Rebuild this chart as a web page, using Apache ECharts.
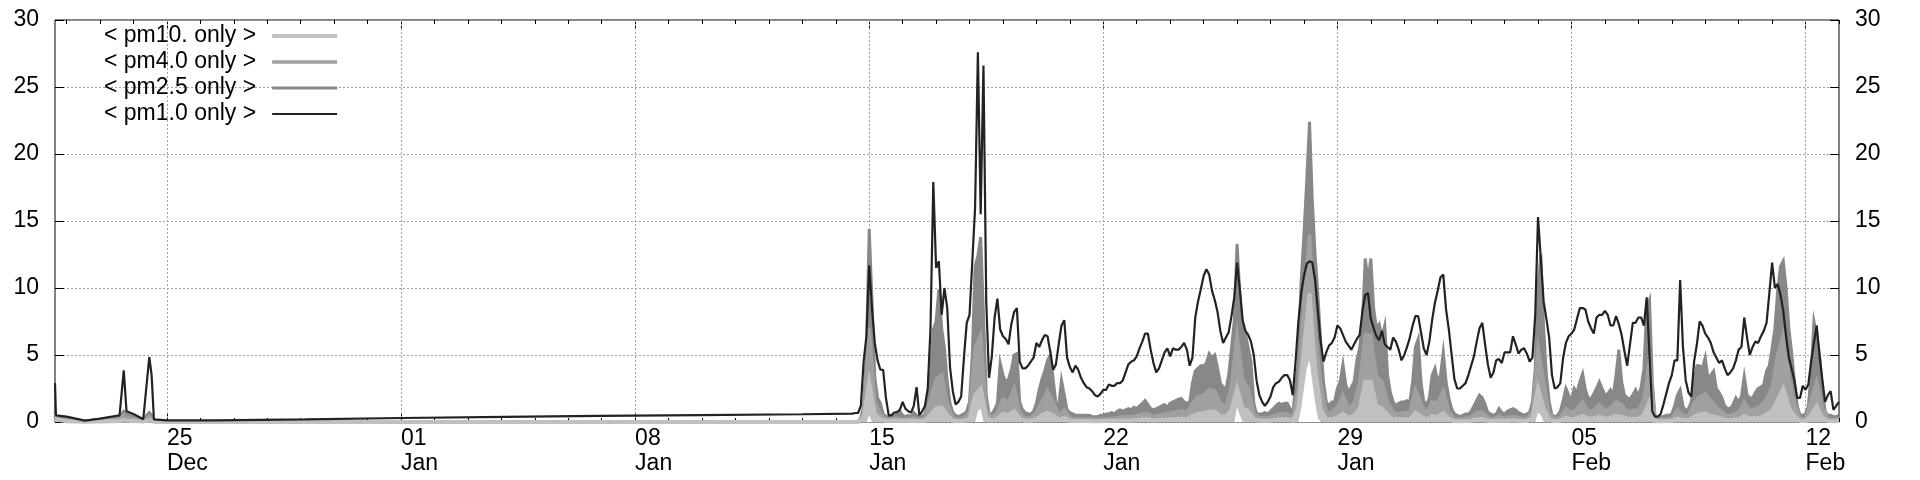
<!DOCTYPE html>
<html><head><meta charset="utf-8">
<script src="https://cdn.jsdelivr.net/npm/echarts@6/dist/echarts.min.js"></script>
<style>html,body{margin:0;padding:0;background:#fff}#c{width:1920px;height:480px}</style>
</head><body><div id="c"></div>
<script>
const seriesNames = ['< pm10. only >', '< pm4.0 only >', '< pm2.5 only >', '< pm1.0 only >'];
const weekTicks = ['2019-12-25T00:00','2020-01-01T00:00','2020-01-08T00:00','2020-01-15T00:00','2020-01-22T00:00','2020-01-29T00:00','2020-02-05T00:00','2020-02-12T00:00'];
const monthNames = ['Jan','Feb','Mar','Apr','May','Jun','Jul','Aug','Sep','Oct','Nov','Dec'];
const xStart = '2019-12-21T15:40';
const xEnd = '2020-02-13T00:00';
const yMin = 0, yMax = 30, yStep = 5;

// Dec 21 - Dec 25 readings
const earlyTimes = ['2019-12-21T15:40','2019-12-21T16:20','2019-12-22T00:00','2019-12-22T13:00','2019-12-23T00:00','2019-12-23T14:00','2019-12-23T17:00','2019-12-23T19:00','2019-12-24T00:00','2019-12-24T07:00','2019-12-24T11:20','2019-12-24T13:00','2019-12-24T14:40','2019-12-25T00:00'];
const earlyPm1  = [2.9,0.5,0.4,0.1,0.25,0.5,3.85,0.8,0.6,0.2,4.85,3.5,0.2,0.12];
const earlyPm25 = [0.8,0.3,0.25,0.05,0.2,0.4,0.8,0.6,0.4,0.2,0.7,0.5,0.1,0];
const earlyPm40 = [0.5,0.2,0.15,0.03,0.12,0.25,0.5,0.35,0.25,0.1,0.4,0.3,0.05,0];
const earlyPm10 = [0.2,0.08,0.06,0.01,0.04,0.08,0.15,0.12,0.08,0.03,0.12,0.1,0.02,0];

// pm1.0 level during the sparse period (each level holds until the next time)
const stepTimes = ['2019-12-25T00:00','2019-12-26T10:00','2019-12-29T03:00','2020-01-01T01:00','2020-01-04T02:00','2020-01-06T22:00','2020-01-09T23:00','2020-01-13T00:00'];
const stepPm1   = [0.12,0.2,0.3,0.38,0.45,0.52,0.58,0.63];

// dense period, from Jan 14 12:00
const activeStart = '2020-01-14T12:00';
const fineStepHours = 2;
const coarseStepHours = 4;

const pm1Active = [
0.67,0.67,0.67,1.2,4.5,6.4,11.7,8.5,5.9,4.6,
3.9,3.9,1.8,0.5,0.5,0.7,0.75,0.9,1.5,1.0,
0.8,0.7,1.2,2.6,0.5,0.8,1.2,2.5,7.0,17.9,
11.5,12.0,8.0,10.0,8.5,4.1,2.3,1.3,1.5,1.9,
4.8,7.4,8.0,12.0,16,27.6,15.5,26.6,9,3.3,
4.9,7.8,9.2,6.9,6.4,6.2,5.8,7.3,8.2,8.5,
4.5,4.0,4.0,4.2,4.5,4.8,5.9,5.6,6.1,6.5,
6.4,5.2,3.9,4.3,5.8,7.2,7.6,4.8,4.1,3.7,
4.2,3.9,3.3,2.9,2.6,2.5,2.3,2.0,1.9,2.1,
2.4,2.4,2.8,2.7,2.7,2.9,2.9,3.1,3.7,4.3,
4.5,4.6,4.9,5.5,6.0,6.6,6.6,5.4,4.4,3.7,
4.0,4.6,5.2,5.5,4.9,5.5,5.4,5.4,5.6,5.9,
5.4,4.2,4.8,7.8,9.0,9.9,10.9,11.4,11.0,9.8,
9.1,8.2,6.8,5.9,6.3,6.7,7.9,9.3,11.9,9.9,
7.6,6.8,6.5,6.0,5.0,3.1,2.0,1.5,1.2,1.5,
1.9,2.6,2.9,3.0,3.3,3.5,3.5,3.1,2.0,4.5,
7.5,9.6,10.9,11.8,12.0,11.9,10.6,8.3,6.0,4.5,
5.2,5.7,5.9,6.3,7.2,7.0,6.5,6.0,5.7,5.4,
5.8,6.2,6.5,8.3,9.5,9.6,7.7,7.0,6.4,6.1,
6.8,5.8,5.6,5.4,6.3,6.0,5.4,4.6,5.0,5.6,
6.3,7.2,7.9,7.9,6.7,5.5,5.0,6.0,7.6,8.9,
9.8,10.8,11.0,8.4,6.9,5.0,3.2,2.5,2.5,2.7,
2.9,3.5,4.2,4.9,6.0,7.0,7.4,5.8,4.3,3.3,
3.7,4.6,4.7,4.4,5.2,5.2,5.2,6.4,5.8,5.1,
5.4,5.5,5.1,4.5,4.8,8.0,15.3,12.2,9.0,7.7,
6.3,3.5,2.5,2.6,2.9,4.8,5.9,6.4,6.6,6.9,
7.7,8.5,8.5,8.4,7.5,7.0,6.6,7.8,8.0,8.0,
8.3,8.0,7.2,7.2,7.9,7.3,6.5,5.3,4.2,5.8,
7.4,7.4,7.8,7.8,7.2,9.3,5.0,0.8,0.4,0.4,
0.6,1.3,2.1,2.9,3.5,4.6,4.6,10.6,5.6,3.1,
2.2,1.9,4.5,5.8,7.5,7.2,6.6,6.3,5.9,5.2,
4.8,4.4,4.6,4.0,3.5,3.7,4.0,4.6,5.4,5.6,
7.8,6.3,5.0,5.6,6.0,5.9,6.4,6.8,7.4,9.6,
11.9,10.0,10.3,9.5,8.3,6.4,4.8,4.0,3.1,1.8,
1.8,2.7,2.4,2.8,4.5,5.9,7.2,5.0,3.2,1.5,
2.0,2.3,0.9,1.2,1.5];

const pm25Active = [
0,0,0,0.3,1.2,5.0,14.4,9.0,3.3,1.8,
1.4,0.6,0.4,0.4,0.5,0.4,0.6,0.8,0.5,0.4,
0.5,0.4,0.7,0.5,0.3,0.4,0.6,1.5,3.5,6.9,
7.5,9.9,7.0,5.5,3.0,1.4,0.7,0.5,0.4,0.5,
0.6,0.8,1.5,5.0,11.6,12.4,13.8,8.0,2.0,0.6,
0.6,0.9,1.4,4.4,3.5,3.0,3.2,3.9,5.0,5.1,
1.5,0.9,0.7,0.6,0.6,0.8,1.4,2.4,3.2,3.8,
4.6,5.0,3.2,1.4,1.2,3.1,2.0,0.9,0.7,0.6,
0.5,0.5,0.5,0.5,0.5,0.5,0.4,0.4,0.4,0.5,
0.5,0.6,0.6,0.7,0.6,0.8,0.9,0.8,0.9,1.0,
0.9,1.1,1.0,1.2,1.4,1.6,1.3,1.0,0.9,1.0,
1.1,1.2,1.3,1.1,1.4,1.5,1.6,1.7,1.75,1.5,
1.4,1.5,2.9,3.8,4.0,4.2,4.2,4.4,5.1,4.8,
5.0,4.0,2.9,2.6,2.4,3.5,5.5,7.5,13.3,9.5,
6.9,6.6,5.5,4.5,1.4,0.6,0.6,0.6,0.7,0.6,
0.8,1.0,1.2,1.4,1.3,1.4,1.4,1.0,0.7,2.5,
4.5,10.5,14,18,22.4,16.5,12.5,9.5,6.0,3.0,
1.5,1.2,1.5,1.5,2.5,3.0,4.3,2.8,2.2,2.6,
3.0,4.6,5.5,7.5,12.2,10.5,12.2,8.5,7.0,7.3,
6.3,7.2,3.5,2.2,1.5,1.2,1.4,1.5,1.5,1.6,
1.5,3.0,5.6,6.2,3.0,1.5,1.3,1.8,3.5,4.0,
3.0,3.5,5.2,3.0,1.8,1.0,0.6,0.5,0.4,0.5,
0.6,0.6,0.8,1.2,1.6,2.0,1.8,1.3,0.7,0.6,
0.5,0.6,1.0,0.7,0.6,0.8,0.9,1.0,0.9,0.7,
0.6,0.5,0.6,0.7,1.5,4.0,10.0,12.5,7.0,3.5,
1.5,0.5,0.4,0.5,0.8,1.6,2.5,2.0,1.6,2.5,
2.2,3.0,3.6,2.4,1.8,1.7,2.1,2.5,3.0,2.5,
2.0,2.1,2.4,2.0,3.5,5.4,3.0,2.0,1.8,1.7,
2.0,2.4,1.9,2.6,4.0,8.5,9.1,3.0,0.3,0.3,
0.4,0.4,0.5,0.5,0.6,1.2,2.0,2.4,1.2,0.8,
1.0,1.5,3.0,4.2,4.2,4.0,4.8,3.2,3.5,3.8,
2.5,2.2,1.8,1.2,1.0,1.0,1.3,1.8,1.5,1.9,
3.4,2.0,1.8,1.8,2.2,2.5,2.6,2.8,3.8,4.2,
5.5,7.0,9.8,11.6,12.0,10.0,7.0,5.2,3.0,1.2,
0.5,0.5,0.6,1.2,3.5,7.5,6.5,5.0,2.5,0.8,
0.5,0.5,0.4,0.4,0.5];

const pm40Active = [
0,0,0.6,7.0,1.5,0.6,0.2,0.2,0.3,0.2,
0.2,0.3,0.15,0.3,1.7,3.2,3.5,1.4,0.3,0.2,
0.3,0.7,5.5,6.5,0.9,0.3,0.7,1.7,1.5,2.5,
0.7,0.3,0.3,0.7,1.5,2.3,1.5,0.5,0.9,0.3,
0.22,0.22,0.22,0.2,0.2,0.22,0.26,0.26,0.38,0.38,
0.42,0.45,0.6,0.6,0.38,0.5,0.6,0.65,0.75,0.85,
0.65,1.4,1.9,2.0,2.4,2.3,1.4,1.1,2.7,6.5,
3.2,2.5,0.6,0.3,0.3,0.38,0.52,0.6,0.6,0.3,
2.5,9.0,14,7.0,2.9,0.7,0.7,1.1,2.0,1.0,
1.4,2.9,6.5,6.5,3.4,3.0,1.5,0.7,0.6,0.7,
0.7,2.4,1.4,0.6,1.5,1.4,2.3,0.75,0.26,0.2,
0.26,0.38,0.7,0.75,0.3,0.22,0.45,0.26,0.38,0.38,
0.26,0.26,0.75,5.5,3.0,0.6,0.2,0.35,1.0,0.7,
1.0,1.5,0.75,0.9,1.3,0.85,1.05,1.5,1.3,0.75,
0.85,0.85,1.7,4.5,0.15,0.2,0.22,0.26,0.9,0.5,
0.45,1.4,1.9,2.1,1.6,1.1,0.75,0.45,0.55,0.7,
1.5,0.85,1.0,1.2,1.7,2.6,5.0,6.5,3.4,1.4,
0.22,0.26,1.6,3.0,1.1,0.22,0.2,0.22];

const pm10Active = [
0,0,0.3,3.0,0.6,0.2,0.1,0.1,0.1,0.1,
0.1,0.1,0.05,0.1,0.5,1.0,1.1,0.5,0.1,0.05,
0.1,0.2,2.0,2.5,0.3,0.1,0.25,0.6,0.5,0.8,
0.25,0.1,0.1,0.2,0.5,0.7,0.5,0.2,0.3,0.1,
0.08,0.08,0.08,0.05,0.05,0.08,0.1,0.1,0.12,0.12,
0.12,0.15,0.2,0.2,0.12,0.15,0.18,0.2,0.22,0.25,
0.2,0.45,0.6,0.65,0.8,0.75,0.45,0.4,0.9,2.5,
1.0,0.8,0.2,0.1,0.1,0.12,0.18,0.2,0.2,0.1,
1.0,5.5,9.6,4.0,1.0,0.2,0.2,0.35,0.6,0.3,
0.45,1.0,3.0,3.0,1.2,1.0,0.5,0.2,0.2,0.2,
0.2,0.7,0.4,0.18,0.45,0.4,0.65,0.25,0.08,0.05,
0.08,0.1,0.2,0.22,0.1,0.08,0.12,0.08,0.12,0.12,
0.08,0.08,0.25,2.5,1.0,0.2,0.05,0.1,0.3,0.2,
0.3,0.45,0.25,0.28,0.4,0.25,0.3,0.45,0.4,0.25,
0.25,0.25,0.5,1.5,0.05,0.05,0.08,0.08,0.25,0.15,
0.12,0.4,0.55,0.65,0.45,0.35,0.25,0.12,0.18,0.2,
0.45,0.25,0.3,0.35,0.55,0.85,1.6,2.5,1.1,0.45,
0.08,0.08,0.5,1.2,0.35,0.08,0.05,0.08];

// unfilled core at the bottom of the largest peaks
const coreTimes = ['2020-01-14T22:00','2020-01-15T00:00','2020-01-15T02:00',
 '2020-01-18T04:00','2020-01-18T06:00','2020-01-18T08:00','2020-01-18T10:00',
 '2020-01-25T22:00','2020-01-26T00:00','2020-01-26T02:00','2020-01-26T04:00',
 '2020-01-27T20:00','2020-01-27T22:00','2020-01-28T00:00','2020-01-28T02:00','2020-01-28T04:00','2020-01-28T06:00','2020-01-28T08:00','2020-01-28T10:00','2020-01-28T12:00',
 '2020-02-03T22:00','2020-02-04T00:00','2020-02-04T02:00','2020-02-04T04:00'];
const coreValues = [0,0.5,0,
 0,0.8,1.0,0,
 0,1.1,0.5,0,
 0,1.0,2.5,4.0,4.6,3.0,1.5,0.3,0,
 0,0.7,0.5,0];

// ---------- build ----------
const T = s => new Date(s).getTime();
const HOUR = 3600000;
const t0 = T(activeStart);
const onGrid = (arr, h) => arr.map((v, i) => [t0 + i * h * HOUR, v]);
const early = arr => earlyTimes.map((t, i) => [T(t), arr[i]]);
const stepPairs = [];
stepTimes.forEach((t, k) => {
  const next = k + 1 < stepTimes.length ? stepTimes[k + 1] : activeStart;
  stepPairs.push([T(t), stepPm1[k]], [T(next), stepPm1[k]]);
});
const dPm1 = early(earlyPm1).concat(stepPairs, onGrid(pm1Active, fineStepHours));
const dPm25 = early(earlyPm25).concat(onGrid(pm25Active, fineStepHours));
const dPm40 = early(earlyPm40).concat(onGrid(pm40Active, coarseStepHours));
const dPm10 = early(earlyPm10).concat(onGrid(pm10Active, coarseStepHours));
const dCore = coreTimes.map((t, i) => [T(t), coreValues[i]]);

const xMin = T(xStart), xMax = T(xEnd);
const weekTs = weekTicks.map(T);
const dayTs = [];
for (let d = new Date(2019, 11, 22); d.getTime() <= xMax; d.setDate(d.getDate() + 1)) dayTs.push(d.getTime());

const FONT = 'Liberation Sans, Arial, sans-serif';
const FS = 23;
const fmt = v => { const d = new Date(v); return String(d.getDate()).padStart(2, '0') + '\n' + monthNames[d.getMonth()]; };

function area(name, data, color, width, z) {
  return { name, type: 'line', data, symbol: 'none', showSymbol: false, z, silent: true,
    lineStyle: { color, width, join: 'miter' }, itemStyle: { color },
    areaStyle: { color, opacity: 1 }, emphasis: { disabled: true }, animation: false };
}
function tickAxis(pos, values, len, labels) {
  return { type: 'value', min: xMin, max: xMax, position: pos, scale: true,
    axisLine: { show: false }, splitLine: { show: false }, minorTick: { show: false },
    axisTick: { show: true, inside: true, length: len, customValues: values, lineStyle: { color: '#000', width: 1 } },
    axisLabel: labels ? { show: true, customValues: weekTs, formatter: fmt, align: 'left', fontSize: FS, lineHeight: 25,
      margin: 4, color: '#000', fontFamily: FONT, hideOverlap: false } : { show: false } };
}
function yAx(pos, grid) {
  return { type: 'value', min: yMin, max: yMax, interval: yStep, position: pos,
    axisLine: { show: false },
    axisTick: { show: true, inside: true, length: 9, lineStyle: { color: '#000', width: 1 } },
    axisLabel: { fontSize: FS, color: '#000', margin: 16, fontFamily: FONT, padding: [0, 0, 7, 0] },
    splitLine: grid ? { show: true, lineStyle: { color: '#a0a0a0', type: [2, 2], width: 1 } } : { show: false } };
}

const s25 = area(seriesNames[2], dPm25, '#888888', 3, 2);
s25.markLine = { silent: true, symbol: ['none', 'none'], z: 1, animation: false, label: { show: false },
  lineStyle: { color: '#a0a0a0', type: [2, 2], width: 1 }, emphasis: { disabled: true },
  data: weekTs.map(t => ({ xAxis: t })) };

const option = {
  animation: false,
  backgroundColor: '#fff',
  textStyle: { fontFamily: FONT },
  grid: { left: 55, right: 81, top: 20, bottom: 58, show: true, borderColor: '#000', borderWidth: 1,
    backgroundColor: 'transparent', containLabel: false, outerBoundsMode: 'none' },
  legend: {
    data: [
      { name: seriesNames[0], icon: 'path://M0,0H65V4H0Z' },
      { name: seriesNames[1], icon: 'path://M0,0H65V3.5H0Z' },
      { name: seriesNames[2], icon: 'path://M0,0H65V3H0Z' },
      { name: seriesNames[3], icon: 'path://M0,0H65V2H0Z' }],
    orient: 'vertical', left: 104, top: 23, align: 'right', padding: 0,
    itemWidth: 65, itemHeight: 14, itemGap: 0, selectedMode: false,
    itemStyle: { borderWidth: 0 },
    textStyle: { fontSize: FS, color: '#000', lineHeight: 26, padding: [0, 11, 0, 0], fontFamily: FONT }
  },
  xAxis: [tickAxis('bottom', dayTs, 4, true), tickAxis('bottom', weekTs, 8, false),
           tickAxis('top', dayTs, 4, false), tickAxis('top', weekTs, 8, false)],
  yAxis: [yAx('left', true), yAx('right', false)],
  series: [
    s25,
    area(seriesNames[1], dPm40, '#a0a0a0', 3.5, 3),
    area(seriesNames[0], dPm10, '#c0c0c0', 4, 4),
    { name: 'core', type: 'line', data: dCore, symbol: 'none', z: 5, silent: true,
      lineStyle: { width: 0, color: '#fff' }, itemStyle: { color: '#fff' }, areaStyle: { color: '#fff', opacity: 1 },
      emphasis: { disabled: true } },
    { name: seriesNames[3], type: 'line', data: dPm1, symbol: 'none', z: 6, silent: true,
      lineStyle: { color: '#222222', width: 2.2 }, itemStyle: { color: '#222222' }, emphasis: { disabled: true } }
  ]
};
const chart = echarts.init(document.getElementById('c'), null, { renderer: 'canvas' });
chart.setOption(option);
</script></body></html>
